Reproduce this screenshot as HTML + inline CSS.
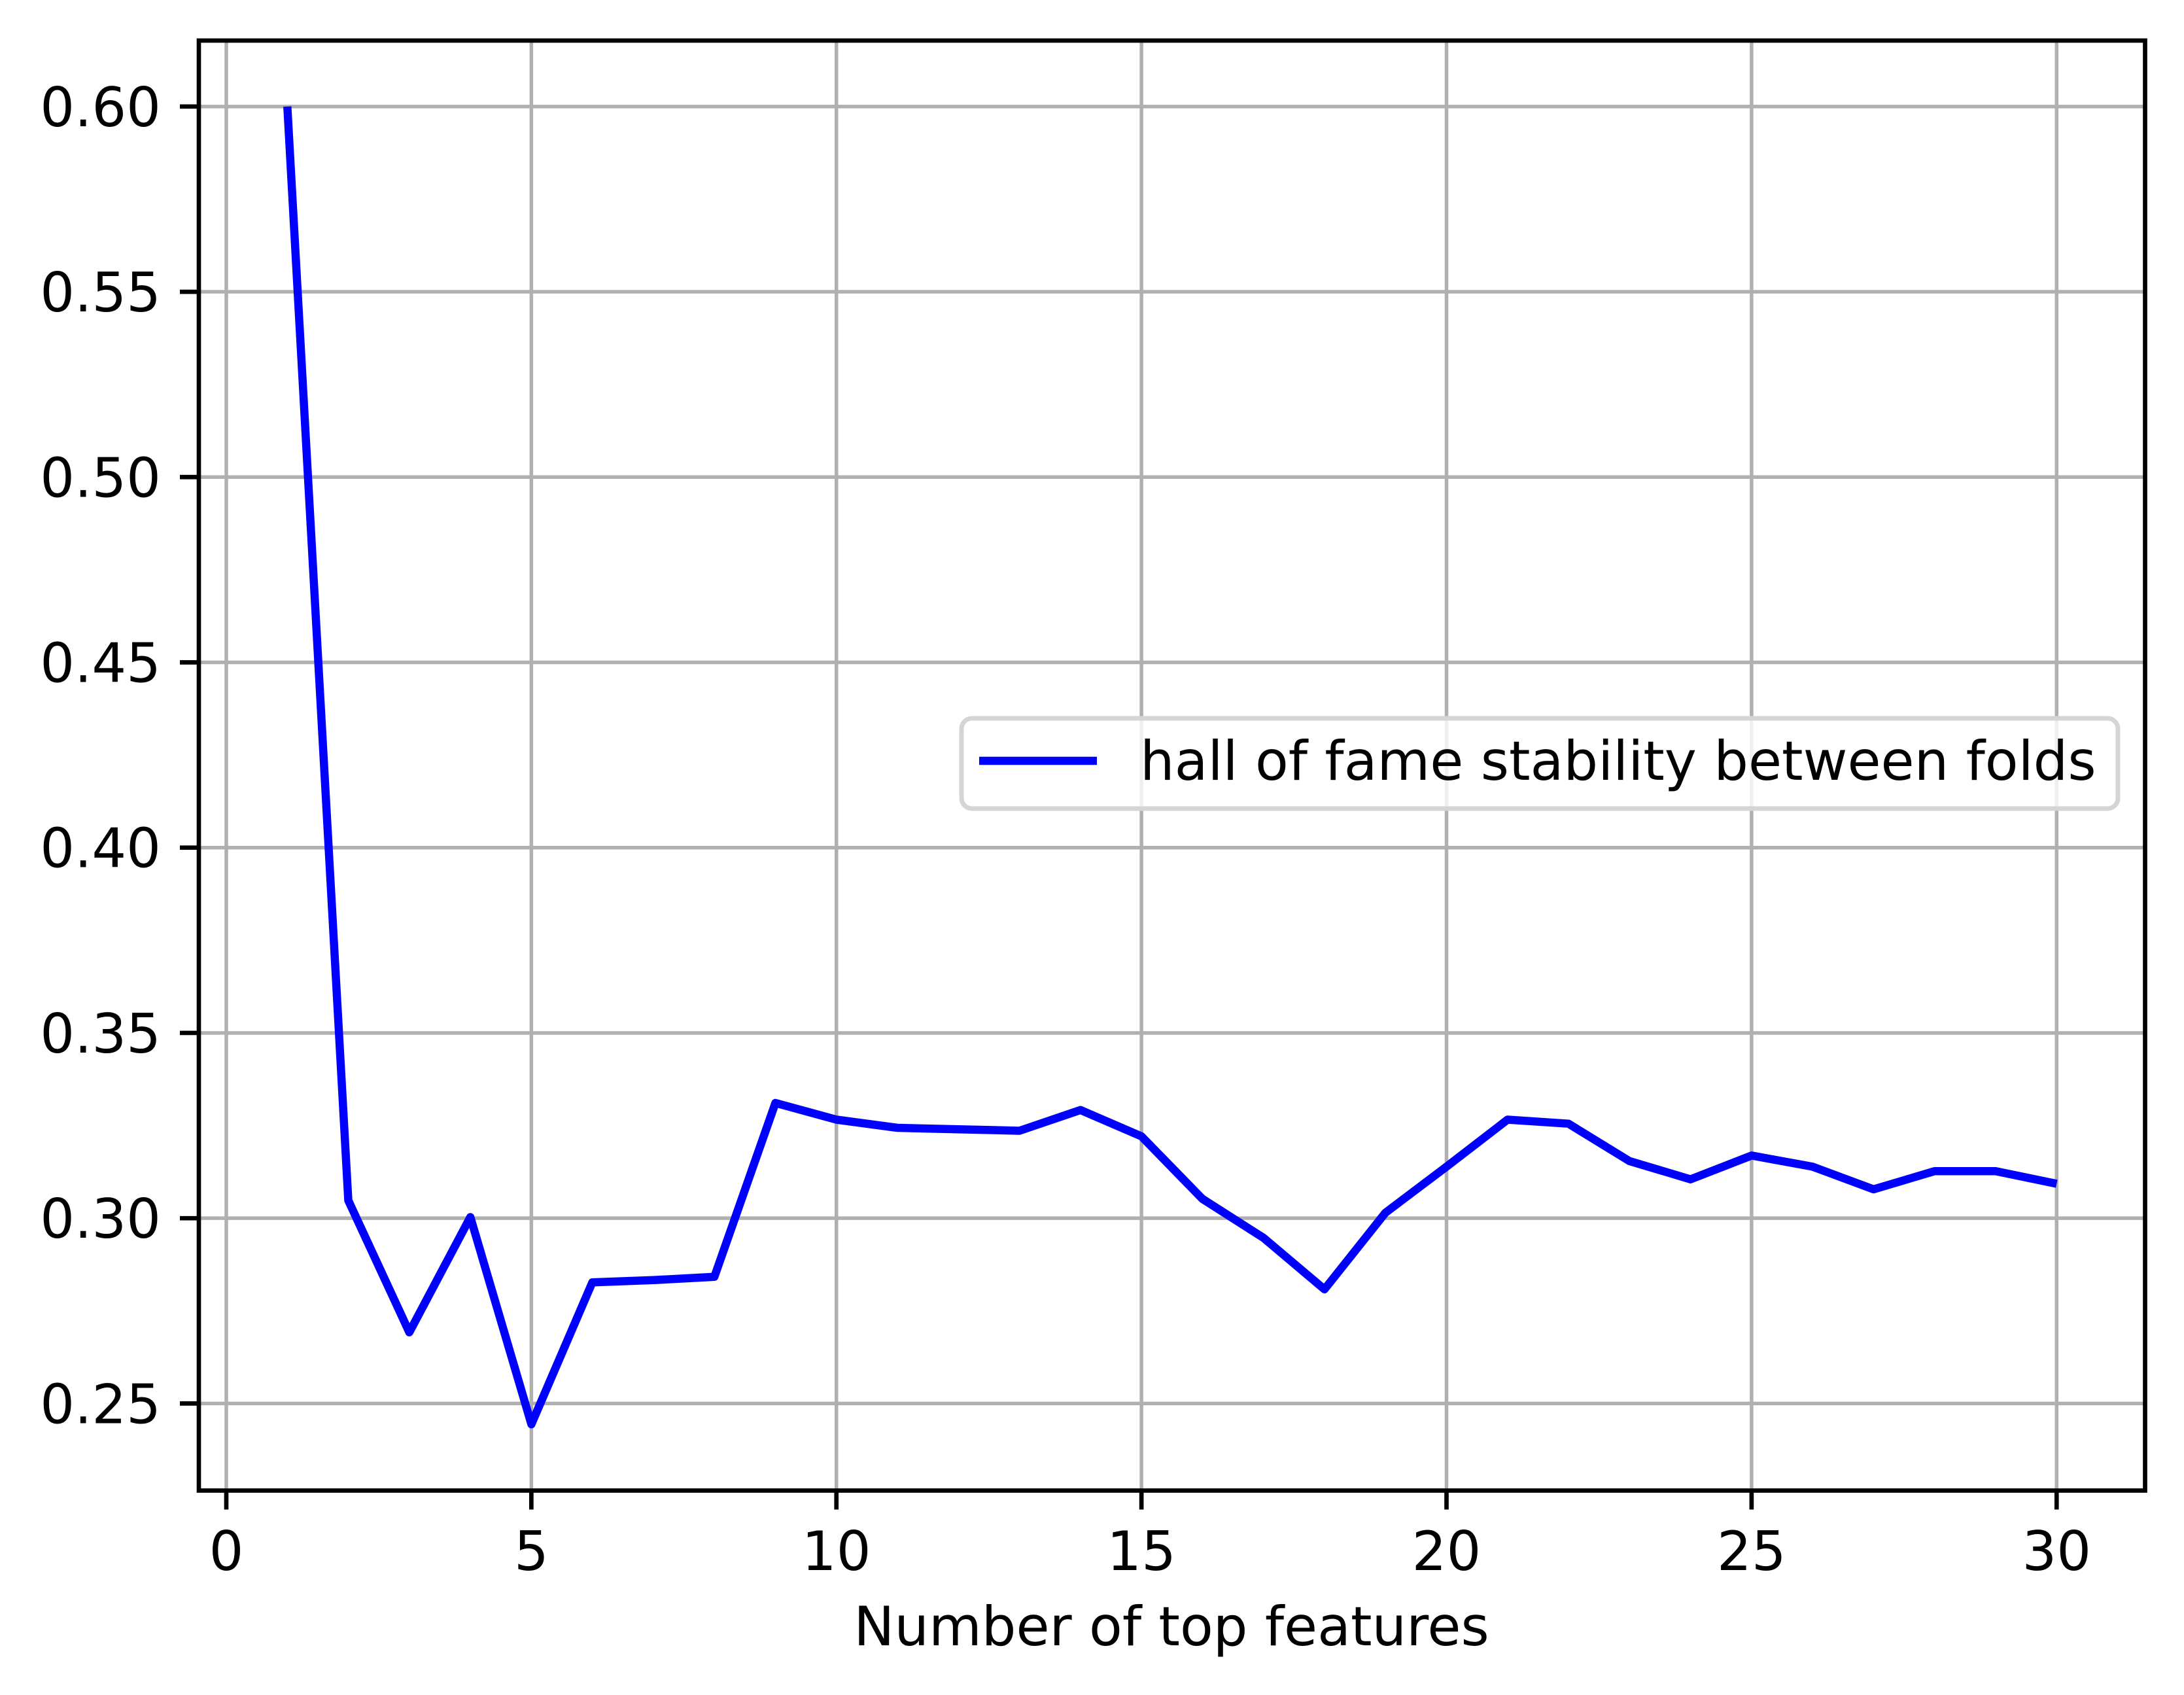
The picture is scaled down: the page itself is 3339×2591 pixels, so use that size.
<!DOCTYPE html>
<html><head><meta charset="utf-8"><style>body{margin:0;background:#fff}svg{display:block}</style></head>
<body>
<svg id="chart" width="3339" height="2591" viewBox="0 0 3339 2591" xmlns="http://www.w3.org/2000/svg" font-family="'DejaVu Sans','Liberation Sans',sans-serif">
<rect width="3339" height="2591" fill="#fff"/>
<g id="grid"></g>
<g id="series"></g>
<rect x="304" y="62" width="2975.5" height="2216.5" fill="none" stroke="#000" stroke-width="6.67"/>
<g id="ticks"></g>
<text x="1791" y="2515" font-size="83" text-anchor="middle">Number of top features</text>
<g>
<rect x="1470" y="1098" width="1768" height="138" rx="16" fill="#fff" fill-opacity="0.8" stroke="#d5d5d5" stroke-width="7"/>
<line x1="1497" y1="1163" x2="1677" y2="1163" stroke="#0000ff" stroke-width="12.5"/>
<text x="1743" y="1192" font-size="83">hall of fame stability between folds</text>
</g>
</svg>
<script>
const xValues = [1,2,3,4,5,6,7,8,9,10,11,12,13,14,15,16,17,18,19,20,21,22,23,24,25,26,27,28,29,30];
const stability = [0.600,0.3048,0.2692,0.3003,0.2444,0.2827,0.2833,0.2842,0.3311,0.3266,0.3244,0.3240,0.3236,0.3292,0.3221,0.3052,0.2947,0.2808,0.3015,0.3139,0.3266,0.3255,0.3154,0.3105,0.3169,0.3139,0.3078,0.3127,0.3127,0.3093];
const xTicks = [0,5,10,15,20,25,30];
const yTicks = [0.25,0.30,0.35,0.40,0.45,0.50,0.55,0.60];
const NS = 'http://www.w3.org/2000/svg';
const L=304,R=3279.5,T=62,B=2278.5;
const xMin=-0.45,xMax=31.45,yMin=0.2265,yMax=0.6178;
const sx=v=>L+(v-xMin)/(xMax-xMin)*(R-L);
const sy=v=>B-(v-yMin)/(yMax-yMin)*(B-T);
function mk(tag,attrs,parent){const e=document.createElementNS(NS,tag);for(const k in attrs)e.setAttribute(k,attrs[k]);parent.appendChild(e);return e;}
const grid=document.getElementById('grid'),ticks=document.getElementById('ticks'),series=document.getElementById('series');
xTicks.forEach(t=>{
  const x=sx(t);
  const g=mk('line',{x1:x,x2:x,y1:T,y2:B,stroke:'#b0b0b0','stroke-width':5.5},grid);
  
  
  const tk=mk('line',{x1:x,x2:x,y1:B,y2:B+29,stroke:'#000','stroke-width':6.67},ticks);
  
  
  const tx=mk('text',{x:x,y:2400,'font-size':83,'text-anchor':'middle'},ticks);
  
  
  tx.textContent=String(t);
});
yTicks.forEach(t=>{
  const y=sy(t);
  const g=mk('line',{x1:L,x2:R,y1:y,y2:y,stroke:'#b0b0b0','stroke-width':5.5},grid);
  
  
  const tk=mk('line',{x1:L-29,x2:L,y1:y,y2:y,stroke:'#000','stroke-width':6.67},ticks);
  
  
  const tx=mk('text',{x:L-58,y:y+30,'font-size':83,'text-anchor':'end'},ticks);
  
  
  tx.textContent=t.toFixed(2);
});
const pts=xValues.map((x,i)=>sx(x).toFixed(1)+','+sy(stability[i]).toFixed(1)).join(' ');
const pl=mk('polyline',{points:pts,fill:'none',stroke:'#0000ff','stroke-width':12.5,'stroke-linejoin':'round','stroke-linecap':'butt'},series);


</script>
</body></html>
